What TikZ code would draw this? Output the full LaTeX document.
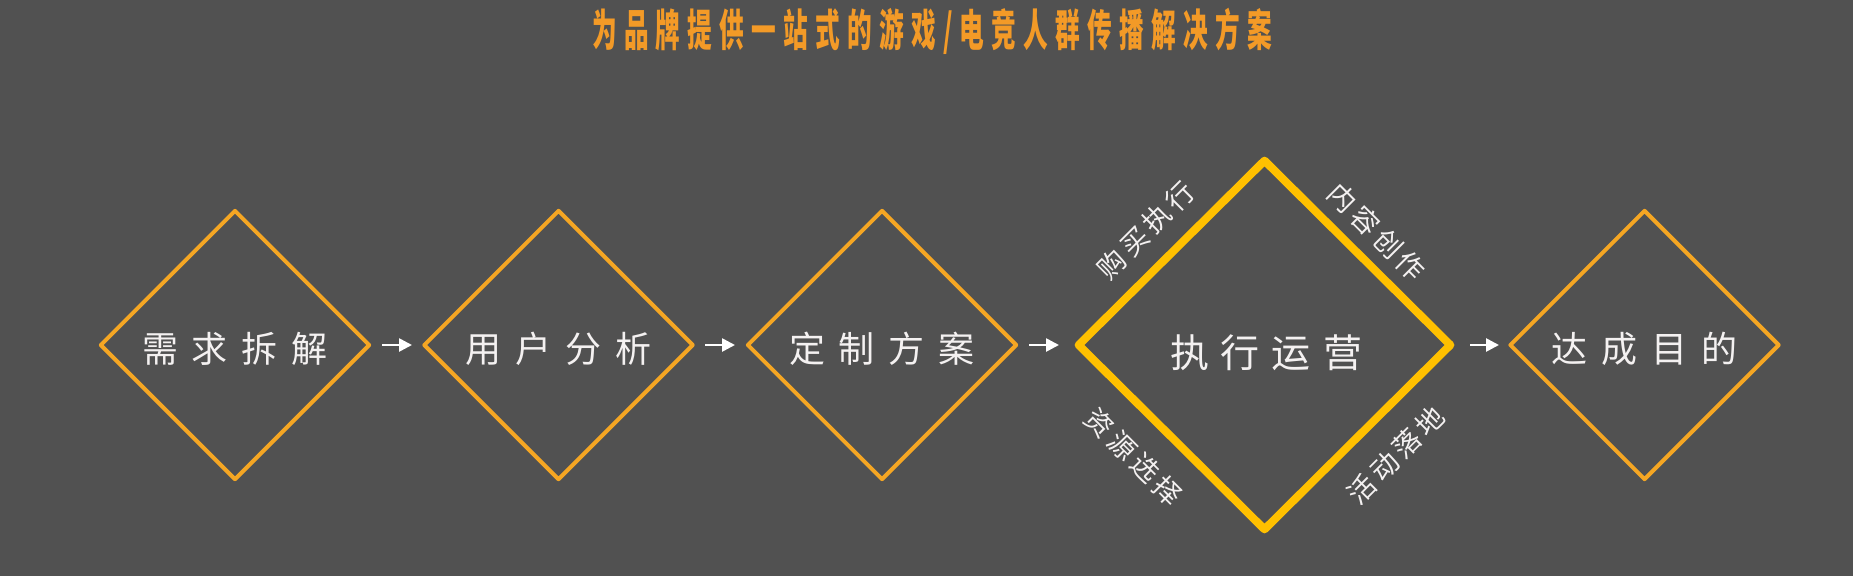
\documentclass[tikz,border=0pt]{standalone}
\usepackage{fontspec}
\usepackage{graphicx}
\usetikzlibrary{shapes.geometric,arrows.meta}
\newfontfamily\cjk{Noto Sans CJK SC}
\definecolor{bgc}{HTML}{515151}
\definecolor{dorange}{HTML}{F5A623}
\definecolor{dgold}{HTML}{FFC000}
\definecolor{ttl}{HTML}{F39A27}
\definecolor{txw}{HTML}{F4F1F1}
\newcommand\tk{\kern13pt }
\newcommand\mk{\kern14pt }
\newcommand\bk{\kern12pt }
\newcommand\sk{\kern4.5pt }
\begin{document}
\begin{tikzpicture}[x=1pt,y=-1pt,
  dia/.style={diamond, aspect=1, draw=dorange, line width=4pt, line join=round,
    minimum width=270pt, minimum height=270pt, inner sep=0pt},
  bigdia/.style={diamond, aspect=1, draw=dgold, line width=8pt, line join=round,
    minimum width=375pt, minimum height=372pt, inner sep=0pt},
  mtext/.style={text=txw, inner sep=0pt, font=\cjk\fontsize{36}{36}\selectfont},
  btext/.style={text=txw, inner sep=0pt, font=\cjk\fontsize{39}{39}\selectfont},
  stext/.style={text=txw, inner sep=0pt, font=\cjk\fontsize{27.5}{27.5}\selectfont},
  ttext/.style={text=ttl, inner sep=0pt, font=\cjk\bfseries\fontsize{44}{44}\selectfont},
  arr/.style={draw=white, line width=2.6pt, -{Triangle[length=13pt,width=13pt]}}
]
\fill[bgc] (0,0) rectangle (1853,576);
\useasboundingbox (0,0) rectangle (1853,576);

\node[ttext] (title) at (932,31) {\scalebox{0.56}[1]{为\tk 品\tk 牌\tk 提\tk 供\tk 一\tk 站\tk 式\tk 的\tk 游\tk 戏\tk /\tk 电\tk 竞\tk 人\tk 群\tk 传\tk 播\tk 解\tk 决\tk 方\tk 案}};

\node[dia] (d1) at (235,345) {};
\node[dia] (d2) at (558.5,345) {};
\node[dia] (d3) at (882,345) {};
\node[bigdia] (d4) at (1264.5,345) {};
\node[dia] (d5) at (1644.5,345) {};

\node[mtext] (t1) at (235,348.5) {需\mk 求\mk 拆\mk 解};
\node[mtext] (t2) at (558.5,348.5) {用\mk 户\mk 分\mk 析};
\node[mtext] (t3) at (882,348.5) {定\mk 制\mk 方\mk 案};
\node[btext] (t4) at (1266,353) {执\bk 行\bk 运\bk 营};
\node[mtext] (t5) at (1644.5,348.5) {达\mk 成\mk 目\mk 的};

\node[stext, rotate=45] (s1) at (1146,230) {购\sk 买\sk 执\sk 行};
\node[stext, rotate=-45] (s2) at (1377,232) {内\sk 容\sk 创\sk 作};
\node[stext, rotate=-45] (s3) at (1134,457) {资\sk 源\sk 选\sk 择};
\node[stext, rotate=45] (s4) at (1396,455) {活\sk 动\sk 落\sk 地};

\draw[arr, shorten <=10pt, shorten >=9.5pt] (d1.east) -- (d2.west);
\draw[arr, shorten <=9.5pt, shorten >=10pt] (d2.east) -- (d3.west);
\draw[arr, shorten <=10pt, shorten >=14pt] (d3.east) -- (d4.west);
\draw[arr, shorten <=14pt, shorten >=8.5pt] (d4.east) -- (d5.west);
\end{tikzpicture}
\end{document}
